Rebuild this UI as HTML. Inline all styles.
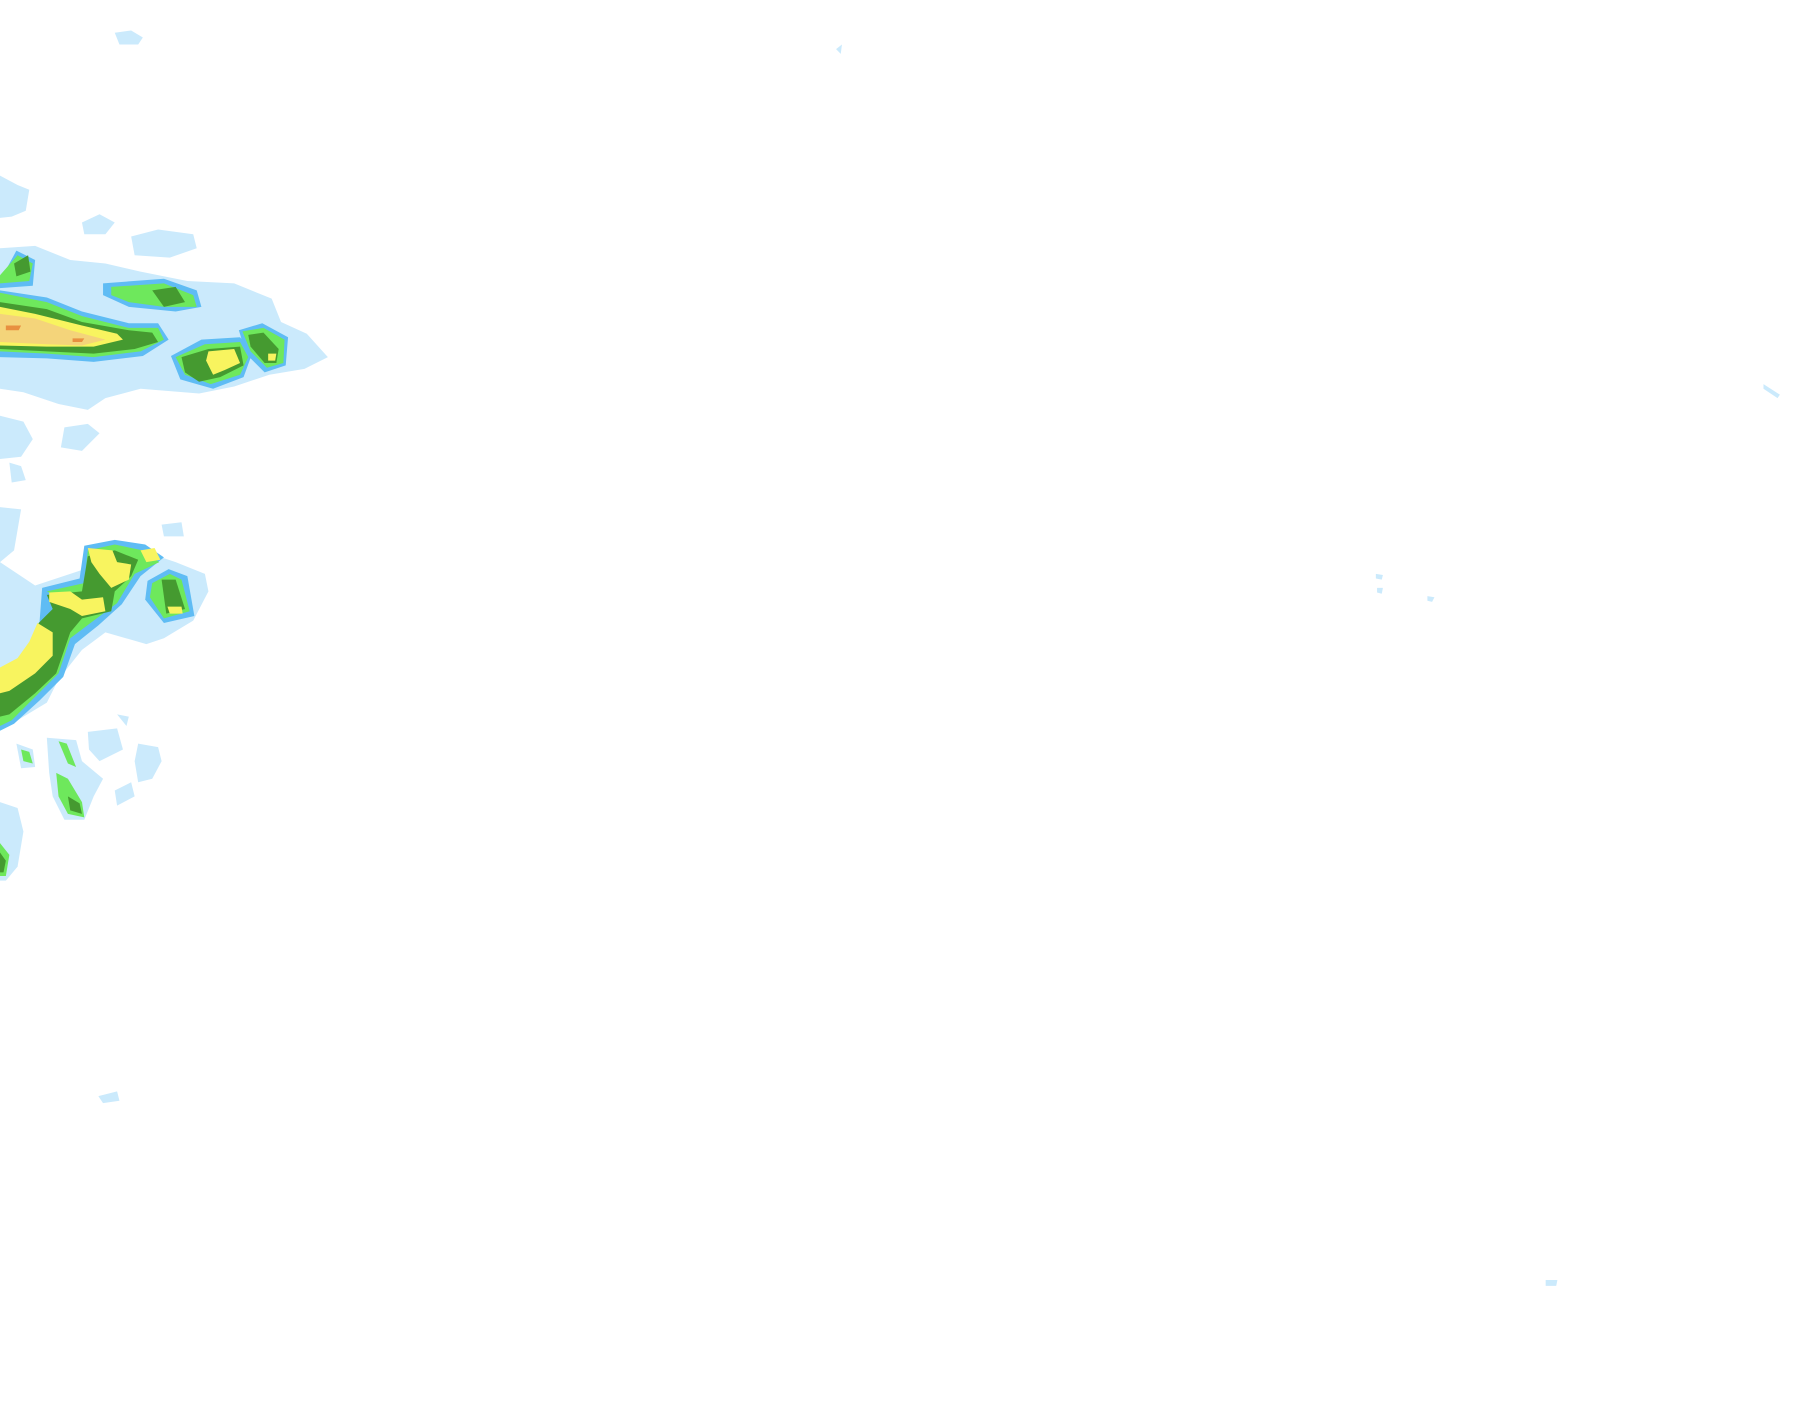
<!DOCTYPE html>
<html><head><style>html,body{margin:0;padding:0;background:#fff}svg{display:block}</style></head>
<body>
<svg width="1815" height="1424" viewBox="0 0 1550 1216" preserveAspectRatio="none" xmlns="http://www.w3.org/2000/svg">
<rect width="1550" height="1216" fill="#fff"/>
<g fill="#cbeafc">
<path d="M98,28 L112,26 L122,32 L118,38 L102,38 Z"/>
<path d="M714,42 L719,38 L718,46 Z"/>
<path d="M0,150 L15,158 L25,162 L22,180 L10,185 L0,186 Z"/>
<path d="M70,190 L85,183 L98,190 L90,200 L72,200 Z"/>
<path d="M112,202 L135,196 L165,200 L168,212 L145,220 L115,218 Z"/>
<path d="M0,212 L30,210 L60,222 L90,225 L120,232 L160,240 L200,242 L232,255 L240,275 L262,285 L280,305 L260,315 L230,320 L200,330 L170,336 L120,332 L90,340 L75,350 L50,345 L20,335 L0,332 Z"/>
<path d="M0,355 L20,360 L28,375 L18,390 L0,392 Z"/>
<path d="M55,365 L75,362 L85,370 L70,385 L52,382 Z"/>
<path d="M8,395 L18,398 L22,410 L10,412 Z"/>
<path d="M0,433 L18,435 L12,470 L0,480 Z"/>
<path d="M138,448 L155,446 L157,458 L140,458 Z"/>
<path d="M0,480 L30,500 L60,490 L120,470 L150,480 L175,490 L178,505 L165,530 L140,545 L125,550 L90,540 L70,555 L50,580 L40,600 L15,615 L0,620 Z"/>
<path d="M75,625 L100,622 L105,640 L85,650 L76,640 Z"/>
<path d="M118,635 L135,638 L138,650 L130,665 L118,668 L115,650 Z"/>
<path d="M100,610 L110,612 L108,620 Z"/>
<path d="M14,635 L28,640 L30,655 L18,656 Z"/>
<path d="M40,630 L65,632 L70,650 L88,665 L80,680 L72,700 L55,700 L45,680 L42,660 Z"/>
<path d="M98,675 L112,668 L115,680 L100,688 Z"/>
<path d="M0,685 L15,690 L20,710 L15,740 L5,752 L0,752 Z"/>
<path d="M84,936 L100,932 L102,940 L88,942 Z"/>
<path d="M1506,328 L1520,337 L1518,340 L1506,332 Z"/>
<path d="M1175,490 L1181,491 L1180,495 L1175,494 Z"/>
<path d="M1176,502 L1181,502 L1180,507 L1176,506 Z"/>
<path d="M1219,509 L1225,510 L1223,514 L1219,513 Z"/>
<path d="M1320,1093 L1330,1093 L1329,1098 L1320,1098 Z"/>
</g>
<g fill="#5fbcf4">
<path d="M0,248 L40,254 L70,266 L110,276 L135,276 L144,290 L122,304 L80,309 L40,306 L0,305 Z"/>
<path d="M88,242 L140,238 L168,248 L172,262 L150,266 L110,262 L88,252 Z"/>
<path d="M146,304 L172,290 L205,288 L216,300 L208,322 L182,332 L154,324 Z"/>
<path d="M204,282 L224,276 L246,288 L244,312 L226,318 L210,302 Z"/>
<path d="M0,240 L14,214 L30,222 L28,244 L0,246 Z"/>
<path d="M0,596 L12,582 L32,556 L34,528 L36,502 L68,494 L72,466 L98,461 L124,465 L140,476 L120,492 L104,516 L84,534 L64,550 L54,578 L34,598 L12,618 L0,624 Z"/>
<path d="M126,496 L144,486 L160,492 L166,526 L140,532 L124,512 Z"/>
</g>
<g fill="#6ee85c">
<path d="M0,235 L15,218 L28,225 L25,240 L0,242 Z"/>
<path d="M95,245 L140,242 L165,252 L168,262 L140,262 L110,258 L95,252 Z"/>
<path d="M0,250 L40,258 L70,270 L110,280 L135,280 L140,290 L120,300 L80,305 L40,302 L0,300 Z"/>
<path d="M150,305 L175,294 L205,292 L212,305 L205,320 L180,328 L158,320 Z"/>
<path d="M207,283 L225,280 L243,290 L242,310 L228,314 L214,300 Z"/>
<path d="M0,600 L15,585 L35,560 L38,530 L60,515 L40,505 L72,498 L75,470 L98,465 L122,470 L136,480 L115,490 L100,515 L80,530 L60,545 L50,575 L30,595 L10,615 L0,620 Z"/>
<path d="M130,498 L145,490 L155,495 L162,522 L140,528 L128,510 Z"/>
<path d="M48,660 L58,665 L70,685 L72,698 L58,695 L50,680 Z"/>
<path d="M18,640 L25,642 L28,652 L20,650 Z"/>
<path d="M50,633 L57,635 L65,655 L58,652 Z"/>
<path d="M0,720 L8,730 L5,748 L0,748 Z"/>
</g>
<g fill="#459a30">
<path d="M12,225 L24,218 L26,232 L14,236 Z"/>
<path d="M130,248 L150,245 L158,258 L140,262 Z"/>
<path d="M0,258 L40,264 L70,275 L110,282 L130,284 L135,292 L115,298 L80,302 L40,300 L0,298 Z"/>
<path d="M155,305 L178,298 L205,296 L208,312 L188,322 L170,326 L158,318 Z"/>
<path d="M212,286 L225,284 L238,298 L236,310 L226,310 L214,296 Z"/>
<path d="M0,590 L15,575 L30,558 L33,532 L45,520 L40,508 L70,505 L75,475 L98,470 L118,478 L112,492 L98,505 L95,522 L70,528 L60,540 L48,575 L30,592 L8,610 L0,612 Z"/>
<path d="M138,495 L150,495 L158,520 L142,524 Z"/>
<path d="M58,680 L68,686 L70,695 L60,692 Z"/>
<path d="M0,728 L5,735 L3,745 L0,745 Z"/>
</g>
<g fill="#f8f45f">
<path d="M0,262 L30,268 L70,278 L100,285 L105,290 L80,296 L40,296 L0,295 Z"/>
<path d="M178,300 L200,298 L205,310 L192,316 L182,320 L176,308 Z"/>
<path d="M0,570 L15,562 L25,548 L32,532 L45,540 L45,560 L30,575 L8,590 L0,592 Z"/>
<path d="M42,506 L60,505 L70,512 L88,510 L90,522 L70,526 L60,520 L42,514 Z"/>
<path d="M75,468 L96,470 L100,480 L112,482 L110,495 L95,502 L85,490 L78,480 Z"/>
<path d="M120,470 L132,468 L137,478 L125,480 Z"/>
<path d="M143,518 L155,518 L156,524 L145,524 Z"/>
<path d="M229,302 L236,302 L235,308 L229,308 Z"/>
</g>
<g fill="#f4d47a">
<path d="M0,268 L30,272 L60,282 L90,290 L70,295 L40,294 L0,292 Z"/>
</g>
<g fill="#e89040">
<path d="M5,278 L18,278 L16,282 L5,282 Z"/>
<path d="M62,289 L72,289 L70,292 L62,292 Z"/>
</g>
</svg>
</body></html>
